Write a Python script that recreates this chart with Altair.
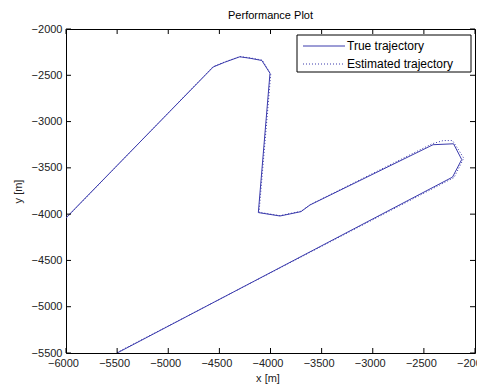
import altair as alt
import pandas as pd

# ---- data ----
true_x = [-6000, -4560, -4450, -4300, -4200, -4085, -4005, -4119, -3907, -3702, -3614, -2410, -2210, -2130, -2220, -5500]
true_y = [-4040, -2410, -2360, -2300, -2316, -2340, -2478, -3983, -4020, -3973, -3901, -3250, -3240, -3410, -3600, -5500]

est_x = [-6000, -4560, -4450, -4300, -4200, -4080, -3998, -4112, -3907, -3700, -3610, -2420, -2310, -2220, -2170, -2110, -2205, -5505]
est_y = [-4045, -2405, -2357, -2298, -2312, -2336, -2490, -3980, -4016, -3968, -3896, -3240, -3205, -3205, -3290, -3395, -3605, -5497]

series_names = ["True trajectory", "Estimated trajectory"]
x_ticks = [-6000, -5500, -5000, -4500, -4000, -3500, -3000, -2500, -2000]
y_ticks = [-5500, -5000, -4500, -4000, -3500, -3000, -2500, -2000]

W, H = 409, 324
FONT = "Liberation Sans"
LINE = "#3a3aac"
TICK = 5

rows = []
for i, (x, y) in enumerate(zip(true_x, true_y)):
    rows.append({"x": x, "y": y, "i": i, "series": series_names[0]})
for i, (x, y) in enumerate(zip(est_x, est_y)):
    rows.append({"x": x, "y": y, "i": i, "series": series_names[1]})
df = pd.DataFrame(rows)

xscale = alt.Scale(domain=[-6000, -2000], nice=False, zero=False)
yscale = alt.Scale(domain=[-5500, -2000], nice=False, zero=False)

x_axis = alt.Axis(values=x_ticks, format="d", ticks=False, domain=False, grid=False,
                  labelFont=FONT, labelFontSize=11, labelColor="#222", labelPadding=7,
                  labelFlush=False, labelOverlap=False, translate=-2.5,
                  title="x [m]", titleFont=FONT, titleFontSize=11, titleFontWeight="normal",
                  titleColor="#222", titlePadding=4)
y_axis = alt.Axis(values=y_ticks, format="d", ticks=False, domain=False, grid=False,
                  labelFont=FONT, labelFontSize=11, labelColor="#222", labelPadding=4,
                  labelFlush=False, labelOverlap=False,
                  title="y [m]", titleFont=FONT, titleFontSize=11, titleFontWeight="normal",
                  titleColor="#222", titlePadding=8)

true_line = alt.Chart(df[df.series == series_names[0]]).mark_line(
    color=LINE, strokeWidth=1, clip=True
).encode(
    x=alt.X("x:Q", scale=xscale, axis=x_axis),
    y=alt.Y("y:Q", scale=yscale, axis=y_axis),
    order="i:Q",
)

est_line = alt.Chart(df[df.series == series_names[1]]).mark_line(
    color=LINE, strokeWidth=1, strokeDash=[1, 2], clip=True
).encode(
    x=alt.X("x:Q", scale=xscale),
    y=alt.Y("y:Q", scale=yscale),
    order="i:Q",
)

xt = pd.DataFrame({"x": x_ticks})
yt = pd.DataFrame({"y": y_ticks})

tick_bottom = alt.Chart(xt).mark_rule(color="black", strokeWidth=1).encode(
    x=alt.X("x:Q", scale=xscale), y=alt.value(H), y2=alt.value(H - TICK))
tick_top = alt.Chart(xt).mark_rule(color="black", strokeWidth=1).encode(
    x=alt.X("x:Q", scale=xscale), y=alt.value(0), y2=alt.value(TICK))
tick_left = alt.Chart(yt).mark_rule(color="black", strokeWidth=1).encode(
    y=alt.Y("y:Q", scale=yscale), x=alt.value(0), x2=alt.value(TICK))
tick_right = alt.Chart(yt).mark_rule(color="black", strokeWidth=1).encode(
    y=alt.Y("y:Q", scale=yscale), x=alt.value(W), x2=alt.value(W - TICK))

# ---- legend (inside, top-right) ----
leg = pd.DataFrame({"label": series_names})
leg_box = alt.Chart(leg.head(1)).mark_rect(fill="white", stroke="black", strokeWidth=1).encode(
    x=alt.value(231), x2=alt.value(405), y=alt.value(6), y2=alt.value(43))
leg_true = alt.Chart(leg.head(1)).mark_rule(color=LINE, strokeWidth=1).encode(
    x=alt.value(237), x2=alt.value(279), y=alt.value(17))
leg_est = alt.Chart(leg.tail(1)).mark_rule(color=LINE, strokeWidth=1, strokeDash=[1, 2]).encode(
    x=alt.value(237), x2=alt.value(279), y=alt.value(35))
leg_t1 = alt.Chart(leg.head(1)).mark_text(
    align="left", baseline="middle", font=FONT, fontSize=12, color="black"
).encode(x=alt.value(281), y=alt.value(17), text="label:N")
leg_t2 = alt.Chart(leg.tail(1)).mark_text(
    align="left", baseline="middle", font=FONT, fontSize=12, color="black"
).encode(x=alt.value(281), y=alt.value(35), text="label:N")

chart = alt.layer(
    true_line, est_line, tick_bottom, tick_top, tick_left, tick_right,
    leg_box, leg_true, leg_est, leg_t1, leg_t2
).properties(
    width=W, height=H,
    title=alt.TitleParams("Performance Plot", font=FONT, fontSize=11, fontWeight="normal",
                          color="black", offset=2, anchor="middle"),
    autosize=alt.AutoSizeParams(type="none"),
    padding={"left": 58, "top": 21, "right": 2, "bottom": 33},
    background="white",
).configure_view(stroke="black", strokeWidth=1)

chart.save("out.html", embed_options={"renderer": "svg", "actions": False})
